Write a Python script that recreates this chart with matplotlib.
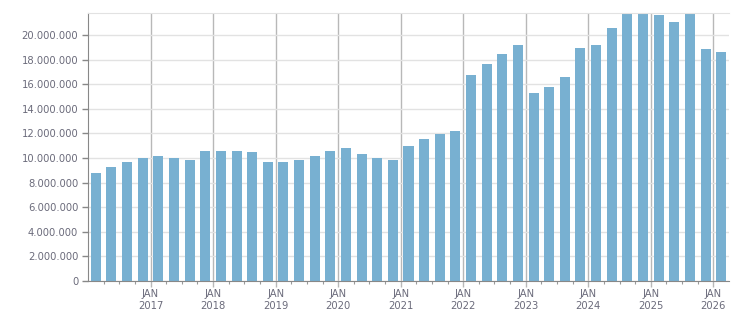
import numpy as np
import matplotlib
matplotlib.use("Agg")
import matplotlib.pyplot as plt
from matplotlib.ticker import FuncFormatter, MultipleLocator

# quarterly values, Q1 2016 .. Q1 2026
quarters = [f"{y}Q{q}" for y in range(2016, 2027) for q in range(1, 5)][:41]
values = [
    8.79, 9.28, 9.69, 10.01,
    10.18, 10.01, 9.85, 10.58,
    10.58, 10.58, 10.50, 9.69,
    9.69, 9.85, 10.18, 10.58,
    10.83, 10.34, 10.01, 9.85,
    10.99, 11.56, 11.97, 12.21,
    16.77, 17.66, 18.48, 19.21,
    15.30, 15.79, 16.61, 18.97,
    19.21, 20.59, 22.00, 22.00,
    21.65, 21.08, 22.00, 18.89,
    18.64,
]
values = [v * 1e6 for v in values]
years = list(range(2017, 2027))
year_labels = [f"JAN\n{y}" for y in years]

bar_color = "#78b0d1"
text_color = "#6b6b7b"

fig = plt.figure(figsize=(7.51, 3.13), dpi=100)
ax = fig.add_axes([88 / 751, 1 - 281 / 313, (729 - 88) / 751, (281 - 13) / 313])

# bar centred in its quarter
x = [2016 + (i + 0.5) / 4 for i in range(len(values))]
ax.bar(x, values, width=0.25 * 0.64, color=bar_color, zorder=2)

ax.set_xlim(2016, 2016 + len(values) / 4)
ax.set_ylim(0, 21.79e6)

ax.yaxis.set_major_locator(MultipleLocator(2e6))
ax.yaxis.set_major_formatter(FuncFormatter(lambda v, p: f"{int(v):,}".replace(",", ".")))

ax.set_xticks(years)
ax.set_xticklabels(year_labels)
ax.set_xticks([2016 + i / 4 for i in range(1, len(values)) if i % 4], minor=True)

ax.grid(axis="y", color="#e2e2e2", linewidth=1, zorder=0)
ax.grid(axis="x", which="major", color="#b8b8b8", linewidth=1, zorder=1)

for s in ["left", "bottom"]:
    ax.spines[s].set_color("#888888")
ax.spines["right"].set_visible(False)
ax.spines["top"].set_color("#e2e2e2")

ax.tick_params(axis="y", length=4, width=1, color="#888888", labelsize=7.2,
               labelcolor=text_color, pad=3)
ax.tick_params(axis="x", which="major", length=4, width=1, color="#b8b8b8",
               labelsize=7.2, labelcolor=text_color, pad=2)
ax.tick_params(axis="x", which="minor", length=2.5, width=0.8, color="#999999")
for t in ax.get_xticklabels():
    t.set_linespacing(1.25)

fig.savefig("out.png", dpi=100)
